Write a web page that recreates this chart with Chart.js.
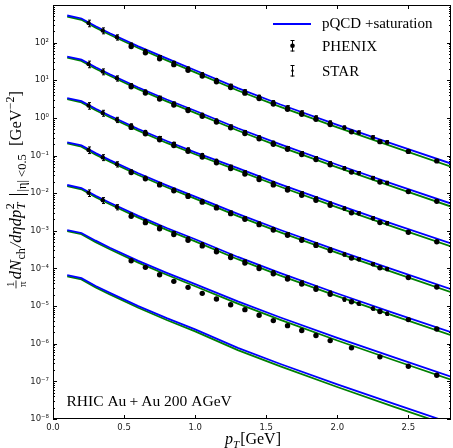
<!DOCTYPE html>
<html><head><meta charset="utf-8">
<script src="https://cdn.jsdelivr.net/npm/chart.js@4/dist/chart.umd.min.js"></script>
<style>
html,body{margin:0;padding:0;background:#fff;overflow:hidden;width:453px;height:448px;}
#wrap{position:relative;width:455px;height:448px;}
canvas{display:block;}
</style></head><body>
<div id="wrap"><canvas id="c" width="455" height="448"></canvas></div>
<script>
// ---- theory curves (pQCD + saturation), pT grid in GeV ----
const pT = [0.1, 0.2, 0.3, 0.4, 0.6, 0.8, 1.0, 1.3, 1.6, 2.0, 2.4, 2.8];
const blue1 = [526, 438, 273, 178, 79.6, 38.1, 18.5, 6.16, 2.27, 0.655, 0.198, 0.0612];
const blue2 = [42.6, 35.4, 22.1, 14.4, 6.44, 3.08, 1.55, 0.531, 0.197, 0.0569, 0.0172, 0.00531];
const blue3 = [3.36, 2.79, 1.75, 1.14, 0.508, 0.243, 0.122, 0.0461, 0.0171, 0.00495, 0.00149, 4.61e-4];
const blue4 = [0.224, 0.186, 0.116, 0.0757, 0.0338, 0.0162, 0.00811, 0.00283, 1.05e-3, 3.04e-4, 9.18e-5, 2.83e-5];
const blue5 = [0.0165, 0.0137, 0.00853, 0.00558, 0.00249, 1.19e-3, 5.97e-4, 2.02e-4, 7.48e-5, 2.16e-5, 6.52e-6, 2.02e-6];
const blue6 = [1.05e-3, 8.76e-4, 5.47e-4, 3.56e-4, 1.59e-4, 7.63e-5, 3.82e-5, 1.33e-5, 4.97e-6, 1.43e-6, 4.32e-7, 1.33e-7];
const blue7 = [6.61e-5, 5.5e-5, 3.43e-5, 2.24e-5, 1.0e-5, 4.79e-6, 2.4e-6, 7.76e-7, 2.89e-7, 8.32e-8, 2.51e-8, 7.76e-9];

const green1 = [491, 405, 251, 162, 71.8, 33.9, 16.2, 5.36, 1.96, 0.558, 0.167, 0.0508];
const green2 = [39.8, 32.8, 20.3, 13.2, 5.81, 2.74, 1.36, 0.463, 0.17, 0.0484, 0.0144, 0.00441];
const green3 = [3.14, 2.59, 1.6, 1.04, 0.459, 0.216, 0.108, 0.0402, 0.0148, 0.00421, 0.00125, 3.84e-4];
const green4 = [0.209, 0.172, 0.106, 0.0691, 0.0305, 0.0144, 0.00715, 0.00246, 9.06e-4, 2.59e-4, 7.73e-5, 2.35e-5];
const green5 = [0.0154, 0.0127, 0.00784, 0.00508, 0.00224, 1.06e-3, 5.26e-4, 1.76e-4, 6.44e-5, 1.84e-5, 5.48e-6, 1.68e-6];
const green6 = [9.82e-4, 8.12e-4, 5.02e-4, 3.25e-4, 1.43e-4, 6.8e-5, 3.36e-5, 1.16e-5, 4.28e-6, 1.22e-6, 3.64e-7, 1.11e-7];
const green7 = [6.16e-5, 5.1e-5, 3.15e-5, 2.04e-5, 9.02e-6, 4.27e-6, 2.12e-6, 6.76e-7, 2.49e-7, 7.08e-8, 2.11e-8, 6.46e-9];

// ---- PHENIX data ----
const phenixPT = [0.55, 0.65, 0.75, 0.85, 0.95, 1.05, 1.15, 1.25, 1.35, 1.45, 1.55, 1.65, 1.75, 1.85, 1.95, 2.1, 2.3, 2.5, 2.7];
const phenix1 = [79.0, 53.6, 37.1, 26.0, 18.4, 13.0, 9.11, 6.4, 4.55, 3.27, 2.35, 1.7, 1.25, 0.916, 0.67, 0.426, 0.234, 0.129, 0.072];
const phenix2 = [6.72, 4.56, 3.16, 2.21, 1.57, 1.1, 0.775, 0.544, 0.386, 0.278, 0.2, 0.146, 0.107, 0.0781, 0.057, 0.0363, 0.0199, 0.011, 0.00613];
const phenix3 = [0.559, 0.38, 0.262, 0.184, 0.13, 0.0916, 0.0644, 0.0454, 0.0321, 0.0232, 0.0166, 0.0121, 0.00885, 0.0065, 0.00475, 0.00301, 0.00166, 9.15e-4, 5.1e-4];
const phenix4 = [0.0353, 0.024, 0.0166, 0.0116, 0.00821, 0.00578, 0.00407, 0.00286, 0.00203, 0.00146, 1.05e-3, 7.63e-4, 5.59e-4, 4.1e-4, 2.99e-4, 1.9e-4, 1.04e-4, 5.77e-5, 3.21e-5];
const phenix5 = [0.00242, 0.00165, 0.00114, 7.96e-4, 5.64e-4, 3.98e-4, 2.79e-4, 1.96e-4, 1.39e-4, 1.0e-4, 7.21e-5, 5.24e-5, 3.84e-5, 2.81e-5, 2.06e-5, 1.31e-5, 7.18e-6, 4.37e-6, 2.46e-6];
const phenix6 = [1.6e-4, 1.07e-4, 6.83e-5, 4.54e-5, 3.15e-5, 2.18e-5, 1.55e-5, 1.09e-5, 8.05e-6, 5.69e-6, 4.11e-6, 3.02e-6, 2.24e-6, 1.65e-6, 1.21e-6, 7.76e-7, 4.48e-7, 2.52e-7, 1.46e-7];
const phenixErr = [0.07, 0.07, 0.07, 0.07, 0.07, 0.07, 0.07, 0.07, 0.07, 0.07, 0.07, 0.07, 0.07, 0.07, 0.08, 0.08, 0.08, 0.09, 0.09];

// ---- STAR data ----
const starPT = [0.25, 0.35, 0.45, 0.55, 0.65, 0.75, 0.85, 0.95, 1.05, 1.15, 1.25, 1.35, 1.45, 1.55, 1.65, 1.75, 1.85, 1.95, 2.05, 2.15, 2.25, 2.35];
const star1 = [330, 209, 139, 88.6, 60.1, 41.7, 29.1, 20.6, 14.6, 10.2, 7.18, 5.1, 3.66, 2.63, 1.92, 1.4, 1.03, 0.752, 0.554, 0.411, 0.305, 0.226];
const star2 = [26.9, 17.0, 11.3, 7.37, 5.01, 3.46, 2.42, 1.71, 1.21, 0.85, 0.597, 0.423, 0.305, 0.22, 0.159, 0.116, 0.0856, 0.0625, 0.0461, 0.0342, 0.0253, 0.0188];
const star3 = [2.13, 1.35, 0.894, 0.627, 0.426, 0.295, 0.206, 0.146, 0.103, 0.0724, 0.0508, 0.0361, 0.026, 0.0187, 0.0136, 0.00993, 0.00728, 0.00532, 0.00393, 0.00291, 0.00216, 0.0016];
const star4 = [0.141, 0.0894, 0.059, 0.0377, 0.0256, 0.0177, 0.0124, 0.00879, 0.00619, 0.00436, 0.00307, 0.00217, 0.00157, 0.00112, 8.18e-4, 5.99e-4, 4.39e-4, 3.2e-4, 2.36e-4, 1.76e-4, 1.3e-4, 9.64e-5];
const star5 = [0.0102, 0.00647, 0.00428, 0.00268, 0.00181, 1.25e-3, 8.79e-4, 6.23e-4, 4.39e-4, 3.08e-4, 2.17e-4, 1.53e-4, 1.11e-4, 7.96e-5, 5.78e-5, 4.23e-5, 3.1e-5, 2.27e-5, 1.5e-5, 1.16e-5, 8.6e-6, 6.3e-6];
const starErr = [0.2, 0.18, 0.16, 0.1, 0.09, 0.09, 0.09, 0.09, 0.09, 0.09, 0.09, 0.09, 0.09, 0.09, 0.09, 0.1, 0.1, 0.1, 0.1, 0.1, 0.1, 0.1];

// ---- axis ticks & labels ----
const xTicks = [0.0, 0.5, 1.0, 1.5, 2.0, 2.5];
const yTicks = [1e-8, 1e-7, 1e-6, 1e-5, 1e-4, 1e-3, 1e-2, 1e-1, 1e0, 1e1, 1e2];
const legendLabels = ['pQCD +saturation', 'PHENIX', 'STAR'];
const annotation = 'RHIC Au\u2009+\u2009Au 200 AGeV';

const BLUE = '#0000ff', GREEN = '#008000';
const SERIF = '"Liberation Serif","DejaVu Serif",serif';
const SANS = '"DejaVu Sans",sans-serif';

const pts = (xs, ys) => xs.map((x, i) => ({x, y: ys[i]}));
const blues = [blue1, blue2, blue3, blue4, blue5, blue6, blue7];
const greens = [green1, green2, green3, green4, green5, green6, green7];
const phenixSets = [phenix1, phenix2, phenix3, phenix4, phenix5, phenix6];
const starSets = [star1, star2, star3, star4, star5];

const datasets = [];
starSets.forEach(s => datasets.push({type: 'scatter', data: pts(starPT, s), errFrac: starErr, cap: 1.5,
  backgroundColor: '#000', borderColor: '#000', pointRadius: 2.2, borderWidth: 0, order: 1}));
phenixSets.forEach(s => datasets.push({type: 'scatter', data: pts(phenixPT, s), errFrac: phenixErr, cap: 0,
  backgroundColor: '#000', borderColor: '#000', pointRadius: 2.7, borderWidth: 0, order: 0}));
blues.forEach(s => datasets.push({type: 'line', data: pts(pT, s), borderColor: BLUE, borderWidth: 1.8,
  pointRadius: 0, fill: false, tension: 0, order: 2}));
greens.forEach(s => datasets.push({type: 'line', data: pts(pT, s), borderColor: GREEN, borderWidth: 1.8,
  pointRadius: 0, fill: false, tension: 0, order: 3}));

const sup = {'-': '\u207B', '0': '\u2070', '1': '\u00B9', '2': '\u00B2', '3': '\u00B3', '4': '\u2074',
  '5': '\u2075', '6': '\u2076', '7': '\u2077', '8': '\u2078', '9': '\u2079'};

function richWidth(ctx, s) {
  if (s.frac) { ctx.font = s.font; return Math.max(ctx.measureText(s.frac[0]).width, ctx.measureText(s.frac[1]).width) + 4; }
  if (s.subsup) { ctx.font = s.font; return Math.max(ctx.measureText(s.subsup[0]).width, ctx.measureText(s.subsup[1]).width) + 1; }
  ctx.font = s.font; return ctx.measureText(s.t).width + (s.gap || 0);
}
function drawRich(ctx, segs, x, y, angle, align) {
  ctx.save();
  const ws = segs.map(s => richWidth(ctx, s));
  const total = ws.reduce((a, b) => a + b, 0);
  ctx.translate(x, y); ctx.rotate(angle);
  let cx = align === 'center' ? -total / 2 : 0;
  ctx.fillStyle = '#000'; ctx.strokeStyle = '#000'; ctx.textBaseline = 'alphabetic'; ctx.textAlign = 'left';
  segs.forEach((s, i) => {
    ctx.font = s.font;
    if (s.frac) {
      const w = ws[i];
      ctx.textAlign = 'center';
      ctx.fillText(s.frac[0], cx + w / 2, -7);
      ctx.fillText(s.frac[1], cx + w / 2, 4.5);
      ctx.textAlign = 'left';
      ctx.lineWidth = 0.8; ctx.beginPath(); ctx.moveTo(cx + 0.5, -5); ctx.lineTo(cx + w - 1, -5); ctx.stroke();
    } else if (s.subsup) {
      ctx.fillText(s.subsup[0], cx, 4);
      ctx.font = s.font2 || s.font;
      ctx.fillText(s.subsup[1], cx, -7);
    } else {
      ctx.fillText(s.t, cx, s.dy || 0);
    }
    cx += ws[i];
  });
  ctx.restore();
}

const deco = {
  id: 'deco',
  afterDatasetsDraw(chart) {
    const ctx = chart.ctx, xs = chart.scales.x, ys = chart.scales.y, a = chart.chartArea;
    ctx.save();
    ctx.beginPath(); ctx.rect(a.left, a.top, a.right - a.left, a.bottom - a.top); ctx.clip();
    ctx.strokeStyle = '#000'; ctx.lineWidth = 1;
    chart.data.datasets.forEach(ds => {
      if (!ds.errFrac) return;
      ds.data.forEach((p, i) => {
        const e = ds.errFrac[i];
        const px = Math.round(xs.getPixelForValue(p.x)) + 0.5;
        const y1 = ys.getPixelForValue(p.y * (1 + e)), y2 = ys.getPixelForValue(p.y * (1 - e));
        ctx.beginPath(); ctx.moveTo(px, y1); ctx.lineTo(px, y2);
        if (ds.cap) { ctx.moveTo(px - ds.cap, y1); ctx.lineTo(px + ds.cap, y1); ctx.moveTo(px - ds.cap, y2); ctx.lineTo(px + ds.cap, y2); }
        ctx.stroke();
      });
    });
    ctx.restore();
  },
  afterDraw(chart) {
    const ctx = chart.ctx, xs = chart.scales.x, ys = chart.scales.y, a = chart.chartArea;
    ctx.save();
    // frame
    ctx.strokeStyle = '#000'; ctx.lineWidth = 1;
    ctx.strokeRect(a.left + 0.5, a.top + 0.5, a.right - a.left - 1, a.bottom - a.top - 1);
    // ticks (inward)
    ctx.beginPath();
    xTicks.forEach(v => {
      const px = Math.round(xs.getPixelForValue(v)) + 0.5;
      ctx.moveTo(px, a.bottom); ctx.lineTo(px, a.bottom - 4);
      ctx.moveTo(px, a.top); ctx.lineTo(px, a.top + 4);
    });
    yTicks.concat([1e3]).forEach(v => {
      const py = Math.round(ys.getPixelForValue(v)) + 0.5;
      ctx.moveTo(a.left, py); ctx.lineTo(a.left + 4, py);
      ctx.moveTo(a.right, py); ctx.lineTo(a.right - 4, py);
      if (v < 1e3) for (let m = 2; m <= 9; m++) {
        const pm = Math.round(ys.getPixelForValue(v * m)) + 0.5;
        ctx.moveTo(a.left, pm); ctx.lineTo(a.left + 2, pm);
        ctx.moveTo(a.right, pm); ctx.lineTo(a.right - 2, pm);
      }
    });
    ctx.stroke();

    // legend
    ctx.strokeStyle = BLUE; ctx.lineWidth = 1.8;
    ctx.beginPath(); ctx.moveTo(273, 24); ctx.lineTo(311, 24); ctx.stroke();
    ctx.fillStyle = '#000'; ctx.strokeStyle = '#000'; ctx.lineWidth = 1;
    ctx.beginPath();
    ctx.moveTo(292.5, 40); ctx.lineTo(292.5, 51.5); ctx.moveTo(290.5, 40.5); ctx.lineTo(294.5, 40.5); ctx.moveTo(290.5, 51); ctx.lineTo(294.5, 51);
    ctx.moveTo(292.5, 65); ctx.lineTo(292.5, 76.5); ctx.moveTo(290.5, 65.5); ctx.lineTo(294.5, 65.5); ctx.moveTo(290.5, 76); ctx.lineTo(294.5, 76);
    ctx.stroke();
    ctx.beginPath(); ctx.arc(292.5, 45.7, 2.3, 0, Math.PI * 2); ctx.fill();
    ctx.beginPath(); ctx.arc(292.5, 70.7, 1.2, 0, Math.PI * 2); ctx.fill();
    ctx.font = '15px ' + SERIF; ctx.textBaseline = 'alphabetic'; ctx.textAlign = 'left';
    ctx.fillText(legendLabels[0], 322, 28);
    ctx.fillText(legendLabels[1], 322, 51);
    ctx.fillText(legendLabels[2], 322, 76);

    // annotation
    ctx.font = '15.5px ' + SERIF;
    ctx.fillText(annotation, 66.5, 406);

    // x title: p_T[GeV]
    drawRich(ctx, [
      {t: 'p', font: 'italic 16px ' + SERIF},
      {t: 'T', font: 'italic 11px ' + SERIF, dy: 3.5, gap: 1},
      {t: '[GeV]', font: '16px ' + SERIF}
    ], 253, 444, 0, 'center');

    // y title
    drawRich(ctx, [
      {frac: ['1', '\u03C0'], font: '11px ' + SERIF},
      {t: 'dN', font: 'italic 16.5px ' + SERIF, gap: 0.5},
      {t: 'ch', font: '12px ' + SERIF, dy: 3.5, gap: 1},
      {t: '/d\u03B7dp', font: 'italic 16.5px ' + SERIF, gap: 0.5},
      {subsup: ['T', '2'], font: 'italic 12px ' + SERIF, font2: '12px ' + SERIF},
      {t: ' |', font: '20px ' + SERIF, dy: 2, gap: 1},
      {t: '|\u03B7| <0.5', font: '12.5px ' + SERIF, dy: 5},
      {t: '  [GeV', font: '16.5px ' + SERIF},
      {t: '\u22122', font: '12px ' + SERIF, dy: -7},
      {t: ']', font: '16.5px ' + SERIF}
    ], 21, 190, -Math.PI / 2, 'center');
    ctx.restore();
  }
};

new Chart(document.getElementById('c'), {
  data: {datasets},
  options: {
    responsive: false, animation: false, devicePixelRatio: 1,
    layout: {padding: {top: 5, right: 0, left: 0, bottom: 0}},
    plugins: {legend: {display: false}, tooltip: {enabled: false}},
    scales: {
      x: {type: 'linear', min: 0, max: 2.8,
        afterBuildTicks: s => { s.ticks = xTicks.map(v => ({value: v})); },
        afterFit: s => { s.height = 29; s.paddingLeft = 0; s.paddingRight = 0; },
        grid: {display: false, drawTicks: false}, border: {display: false},
        ticks: {padding: 4, color: '#222', font: {family: SANS, size: 8.5}, maxRotation: 0, autoSkip: false,
          callback: v => Number(v).toFixed(1)}},
      y: {type: 'logarithmic', min: 1e-8, max: 1e3,
        afterBuildTicks: s => { s.ticks = yTicks.map(v => ({value: v})); },
        afterFit: s => { s.width = 53; s.paddingTop = 0; s.paddingBottom = 0; },
        grid: {display: false, drawTicks: false}, border: {display: false},
        ticks: {padding: 4, color: '#222', font: {family: SANS, size: 8.5}, autoSkip: false,
          callback: v => '10' + String(Math.round(Math.log10(v))).split('').map(c => sup[c]).join('')}}
    }
  },
  plugins: [deco]
});
</script>
</body></html>
